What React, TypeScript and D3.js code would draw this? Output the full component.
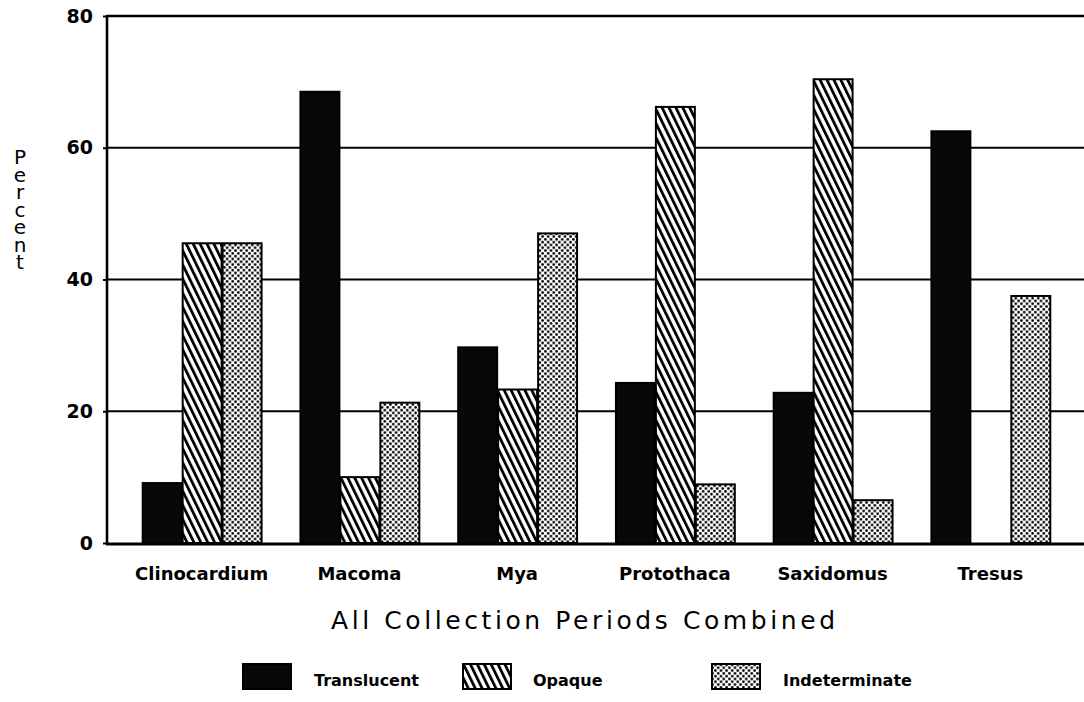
import { useEffect, useRef } from 'react';
import * as d3 from 'd3';

const categories = ['Clinocardium', 'Macoma', 'Mya', 'Protothaca', 'Saxidomus', 'Tresus'];
const seriesNames = ['Translucent', 'Opaque', 'Indeterminate'];
const translucent = [9.1, 68.5, 29.7, 24.3, 22.8, 62.5];
const opaque = [45.5, 10.0, 23.3, 66.2, 70.4, 0];
const indeterminate = [45.5, 21.3, 47.0, 8.9, 6.5, 37.5];
const yTicks = [0, 20, 40, 60, 80];
const yLabel = 'Percent';
const xTitle = 'All Collection Periods Combined';

const W = 1084;
const H = 702;
const FONT = '"DejaVu Sans", sans-serif';

export default function App() {
	const svgRef = useRef<SVGSVGElement>(null);

	useEffect(() => {
		if (!svgRef.current) return;
		const svg = d3.select(svgRef.current);
		svg.selectAll('*').remove();

		const left = 107;
		const right = 1085;
		const top = 16;
		const bottom = 543;

		const values = [translucent, opaque, indeterminate];
		const fills = ['#080808', 'url(#hatch)', 'url(#dots)'];

		// patterns
		const defs = svg.append('defs');
		const hatch = defs
			.append('pattern')
			.attr('id', 'hatch')
			.attr('patternUnits', 'userSpaceOnUse')
			.attr('width', 6.2)
			.attr('height', 10)
			.attr('patternTransform', 'rotate(-26)');
		hatch.append('rect').attr('width', 6.2).attr('height', 10).attr('fill', '#fff');
		hatch.append('rect').attr('x', 0).attr('width', 2.8).attr('height', 10).attr('fill', '#000');

		const dots = defs
			.append('pattern')
			.attr('id', 'dots')
			.attr('patternUnits', 'userSpaceOnUse')
			.attr('width', 5.6)
			.attr('height', 5.6);
		dots.append('rect').attr('width', 5.6).attr('height', 5.6).attr('fill', '#fff');
		dots.append('circle').attr('cx', 1.4).attr('cy', 1.4).attr('r', 1.35).attr('fill', '#000');
		dots.append('circle').attr('cx', 4.2).attr('cy', 4.2).attr('r', 1.35).attr('fill', '#000');

		// scales
		const x0 = d3.scaleBand<string>().domain(categories).range([left, right]).paddingInner(0.24).paddingOuter(0.22);
		const x1 = d3.scaleBand<string>().domain(seriesNames).range([0, x0.bandwidth()]);
		const y = d3.scaleLinear().domain([0, 80]).range([bottom, top]);

		// grid lines
		svg
			.append('g')
			.selectAll('line')
			.data(yTicks.filter((t) => t > 0))
			.enter()
			.append('line')
			.attr('x1', left)
			.attr('x2', W)
			.attr('y1', (d) => y(d))
			.attr('y2', (d) => y(d))
			.attr('stroke', '#000')
			.attr('stroke-width', (d) => (d === 80 ? 2.6 : 2));

		// Y axis
		const yAxis = svg
			.append('g')
			.attr('transform', `translate(${left},0)`)
			.call(d3.axisLeft(y).tickValues(yTicks).tickSize(4).tickPadding(10).tickFormat(d3.format('d')));
		yAxis.select('.domain').remove();
		yAxis.selectAll('line').attr('stroke', '#000').attr('stroke-width', 2);
		yAxis
			.selectAll('text')
			.attr('fill', '#000')
			.style('font-family', FONT)
			.style('font-weight', 'bold')
			.style('font-size', '19px');

		// bars
		const groups = svg
			.append('g')
			.selectAll('g')
			.data(categories)
			.enter()
			.append('g')
			.attr('transform', (d) => `translate(${x0(d)},0)`);

		groups
			.selectAll('rect')
			.data((_, i) => seriesNames.map((s, k) => ({ s, k, v: values[k][i] })).filter((d) => d.v > 0))
			.enter()
			.append('rect')
			.attr('x', (d) => (x1(d.s) as number) + 1)
			.attr('width', x1.bandwidth() - 1)
			.attr('y', (d) => y(d.v))
			.attr('height', (d) => y(0) - y(d.v))
			.attr('fill', (d) => fills[d.k])
			.attr('stroke', '#000')
			.attr('stroke-width', 2);

		// axis lines
		svg.append('line').attr('x1', left).attr('x2', left).attr('y1', top - 1).attr('y2', bottom + 1.5).attr('stroke', '#000').attr('stroke-width', 2.6);
		svg.append('line').attr('x1', left - 1).attr('x2', W).attr('y1', bottom + 1).attr('y2', bottom + 1).attr('stroke', '#000').attr('stroke-width', 3);

		// category labels
		svg
			.append('g')
			.selectAll('text')
			.data(categories)
			.enter()
			.append('text')
			.attr('x', (d) => (x0(d) as number) + x0.bandwidth() / 2)
			.attr('y', 580)
			.attr('text-anchor', 'middle')
			.style('font-family', FONT)
			.style('font-weight', 'bold')
			.style('font-size', '18px')
			.text((d) => d);

		// x title
		svg
			.append('text')
			.attr('x', 331)
			.attr('y', 629)
			.attr('textLength', 504)
			.attr('lengthAdjust', 'spacing')
			.style('font-family', FONT)
			.style('font-size', '25px')
			.text(xTitle);

		// vertical y label, stacked upright letters
		svg
			.append('text')
			.attr('x', 20)
			.attr('y', 145)
			.style('writing-mode', 'vertical-rl')
			.style('text-orientation', 'upright')
			.style('font-family', FONT)
			.style('font-size', '20px')
			.style('letter-spacing', '-6.5px')
			.text(yLabel);

		// legend
		const legendX = [243, 463, 712];
		const legendTextX = [314, 533, 783];
		const legend = svg
			.append('g')
			.selectAll('g')
			.data(seriesNames)
			.enter()
			.append('g');
		legend
			.append('rect')
			.attr('x', (_, i) => legendX[i])
			.attr('y', 664)
			.attr('width', 48)
			.attr('height', 25)
			.attr('fill', (_, i) => fills[i])
			.attr('stroke', '#000')
			.attr('stroke-width', 2);
		legend
			.append('text')
			.attr('x', (_, i) => legendTextX[i])
			.attr('y', 686)
			.style('font-family', FONT)
			.style('font-weight', 'bold')
			.style('font-size', '16px')
			.text((d) => d);
	}, []);

	return (
		<div style={{ position: 'absolute', left: 0, top: 0, width: W, height: H, background: '#fff' }}>
			<svg ref={svgRef} width={W} height={H}></svg>
		</div>
	);
}
